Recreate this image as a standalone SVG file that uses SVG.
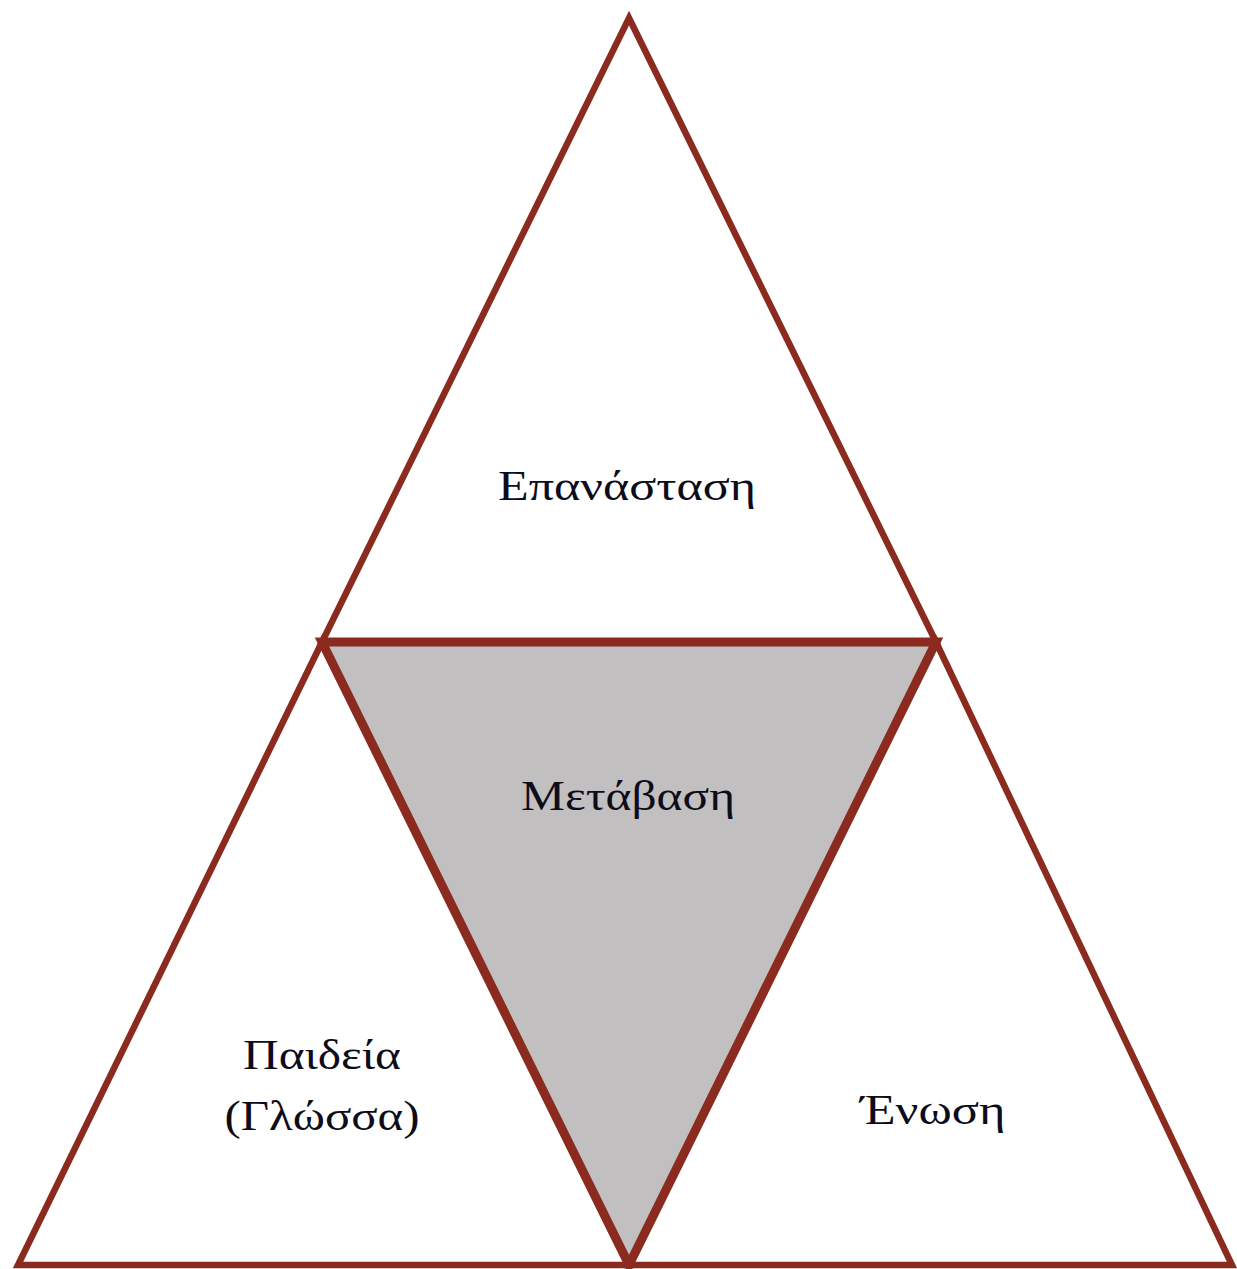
<svg xmlns="http://www.w3.org/2000/svg" width="1237" height="1269" viewBox="0 0 1237 1269">
<style>
.tri{fill:#ffffff;stroke:#8B2A1E;stroke-width:6.5;stroke-linejoin:miter}
.mid{fill:#C1BFC0;stroke:#8B2A1E;stroke-width:9;stroke-linejoin:miter}
.lbl{font-family:"Liberation Serif","DejaVu Serif",serif;font-size:42px;fill:#0d0d1a;text-anchor:middle}
</style>
<rect width="1237" height="1269" fill="#ffffff"/>
<g id="top">
<polygon class="tri" points="629,18 936,642 322,642"/>
<text class="lbl" x="627" y="500" textLength="258" lengthAdjust="spacingAndGlyphs">Επανάσταση</text>
</g>
<g id="left">
<polygon class="tri" points="322,642 629,1265 18,1265"/>
<text class="lbl" x="322" y="1069" textLength="158" lengthAdjust="spacingAndGlyphs">Παιδεία</text>
<text class="lbl" x="322" y="1130" textLength="195" lengthAdjust="spacingAndGlyphs">(Γλώσσα)</text>
</g>
<g id="right">
<polygon class="tri" points="936,642 1232,1265 629,1265"/>
<text class="lbl" x="933" y="1124" textLength="145" lengthAdjust="spacingAndGlyphs">Ένωση</text>
</g>
<g id="center">
<polygon class="mid" points="322,642 936,642 629,1265"/>
<text class="lbl" x="628" y="810" textLength="214" lengthAdjust="spacingAndGlyphs">Μετάβαση</text>
</g>
<g id="connectors"></g>
</svg>
